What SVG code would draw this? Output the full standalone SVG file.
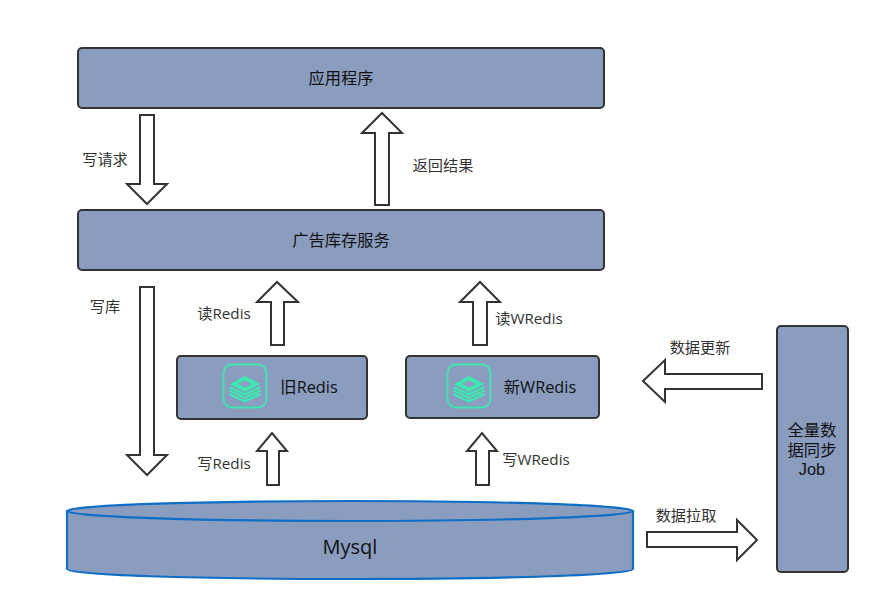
<svg xmlns="http://www.w3.org/2000/svg" width="880" height="612" viewBox="0 0 880 612">
<style>
text{font-family:"Open Sans","Noto Sans CJK SC",sans-serif;font-size:15.2px;fill:#333;text-anchor:middle}
text.n{fill:#111;font-size:16.3px}
text.j{font-family:"Liberation Sans","Noto Sans CJK SC",sans-serif}
.b{fill:#8a9dbf;stroke:#333;stroke-width:2}
.a{fill:#fff;stroke:#333;stroke-width:2}
.i{fill:none;stroke:#3ee6b0;stroke-width:1.8}
.s{fill:none;stroke:#3ee6b0;stroke-width:2.4}
.d{fill:#3ee6b0}
.c{fill:#8a9dbf;stroke:#0f6fc6;stroke-width:2.2}
</style>
<defs>
<g id="logo">
<path class="i" d="M-12-21.500H12C18-21.500 21.500-18 21.500-12V12C21.500 18 18 21.500 12 21.500H-12C-18 21.500-21.500 18-21.500 12V-12C-21.500-18-18-21.500-12-21.500Z"/>
<path class="d" d="M-15-2 0-10 15-2 0 6ZM-7-2 0 1.500 7-2 0-5.500Z" fill-rule="evenodd"/>
<path class="s" d="M-15.500 1 0 8.500 15.500 1M-15.500 4.500 0 12 15.500 4.500M-15.500 8 0 15.500 15.500 8"/>
</g>
</defs>
<g id="connectors">
<path class="a" d="M140 115H154V184H167L147 204 127 184H140Z"/>
<path class="a" d="M375 205H389V133H402L382 113 362 133H375Z"/>
<path class="a" d="M140 287H154V455H167L147 475 127 455H140Z"/>
<path class="a" d="M271 345H284V302H298L277 282 257 302H271Z"/>
<path class="a" d="M473 345H487V302H500L480 282 460 302H473Z"/>
<path class="a" d="M267 485H279V451H287L272 433 257 451H267Z"/>
<path class="a" d="M476 485H489V451H497L482 433 467 451H476Z"/>
<path class="a" d="M762 374V389H665V402L643 381 665 360V374Z"/>
<path class="a" d="M647 532V547H737V560L757 540 737 520V532Z"/>
</g>
<g id="app"><rect class="b" x="78" y="48" width="526" height="60" rx="4"/><text class="n" x="341" y="84">应用程序</text></g>
<g id="service"><rect class="b" x="78" y="210" width="526" height="60" rx="4"/><text class="n" x="341" y="246">广告库存服务</text></g>
<g id="old-redis"><rect class="b" x="177" y="356" width="190" height="63" rx="4"/><use href="#logo" x="245" y="386"/><text class="n" x="309" y="393">旧Redis</text></g>
<g id="new-redis"><rect class="b" x="406" y="356" width="193" height="62" rx="4"/><use href="#logo" x="469" y="386"/><text class="n" x="540" y="393">新WRedis</text></g>
<g id="job"><rect class="b" x="777" y="326" width="71" height="246" rx="4"/><text class="n j" x="812" y="436">全量数</text><text class="n j" x="812" y="456">据同步</text><text class="n j" x="812" y="475">Job</text></g>
<g id="mysql">
<path class="c" d="M67 511V569C67 575 194 579 350 579S633 575 633 569V511Z"/>
<ellipse class="c" cx="350" cy="511" rx="283" ry="10"/>
<text x="350" y="554" style="font-size:20px;fill:#111">Mysql</text>
</g>
<g id="labels">
<text x="105" y="165">写请求</text>
<text x="443" y="171">返回结果</text>
<text x="105" y="312">写库</text>
<text x="224" y="319">读Redis</text>
<text x="529" y="324">读WRedis</text>
<text x="224" y="469">写Redis</text>
<text x="536" y="465">写WRedis</text>
<text x="700" y="353">数据更新</text>
<text x="686" y="521">数据拉取</text>
</g>
</svg>
